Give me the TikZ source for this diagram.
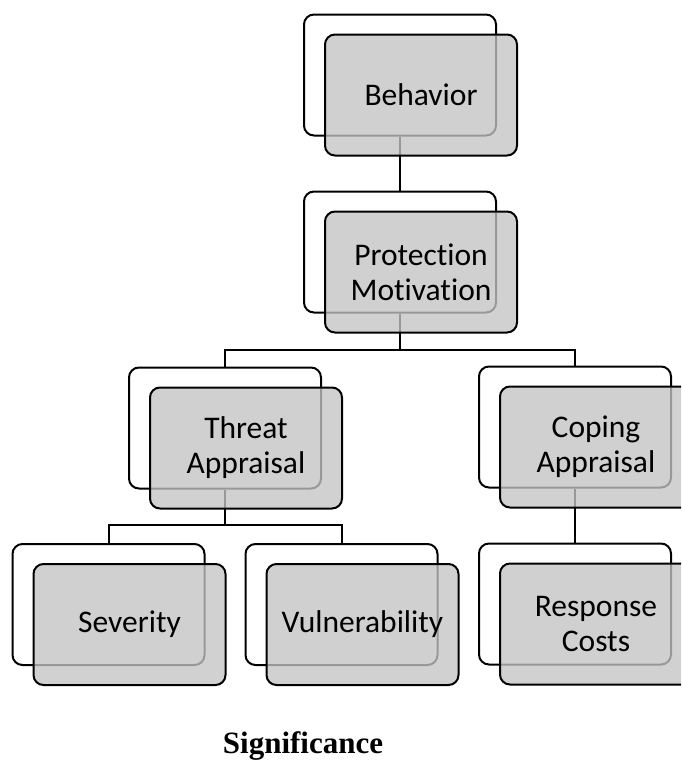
\documentclass[tikz,border=0pt]{standalone}
\usepackage{fontspec}
\setmainfont{Carlito}[Ligatures=NoCommon]
\newfontfamily\capfont{Liberation Serif}
\begin{document}
\begin{tikzpicture}[x=1pt,y=-1pt,
  backbox/.style={draw=black, line width=2pt, fill=white, rounded corners=10pt,
    minimum width=192pt, minimum height=121pt, inner sep=0pt},
  frontbox/.style={draw=black, line width=2pt, fill={rgb,255:red,196;green,196;blue,196},
    fill opacity=0.78, text opacity=1, rounded corners=10pt,
    minimum width=192pt, minimum height=121pt, inner sep=0pt, align=center,
    font=\fontsize{31.5}{35}\selectfont},
  conn/.style={draw=black, line width=2pt}]
\useasboundingbox (0,0) rectangle (681,761);
\clip (0,0) rectangle (681,761);
% back boxes
\node[backbox] (bBeh) at (400,75) {};
\node[backbox] (bPro) at (400,252) {};
\node[backbox] (bThr) at (225,428) {};
\node[backbox] (bCop) at (575,427) {};
\node[backbox] (bSev) at (108.5,604.5) {};
\node[backbox] (bVul) at (341.5,604.5) {};
\node[backbox] (bRes) at (575,604) {};
% connectors
\draw[conn] (bBeh.south) -- (bPro.north);
\coordinate (j1) at (400,350);
\draw[conn] (bPro.south) -- (j1);
\draw[conn] (bThr.north) -- (bThr.north |- j1) -- (bCop.north |- j1) -- (bCop.north);
\coordinate (j2) at (225,525);
\draw[conn] (bThr.south) -- (j2);
\draw[conn] (bSev.north) -- (bSev.north |- j2) -- (bVul.north |- j2) -- (bVul.north);
\draw[conn] (bCop.south) -- (bRes.north);
% front boxes
\node[frontbox] (fBeh) at (421,95) {Behavior};
\node[frontbox] (fPro) at (421,272) {Protection\\Motivation};
\node[frontbox] (fThr) at (246,448) {Threat\\Appraisal};
\node[frontbox] (fCop) at (596,447) {Coping\\Appraisal};
\node[frontbox] (fSev) at (129.5,624.5) {Severity};
\node[frontbox] (fVul) at (362.5,624.5) {Vulnerability};
\node[frontbox] (fRes) at (596,624) {Response\\Costs};
% caption
\node[font=\capfont\bfseries\fontsize{31}{36}\selectfont, anchor=base] (cap) at (303,753) {Significance};
\end{tikzpicture}
\end{document}
